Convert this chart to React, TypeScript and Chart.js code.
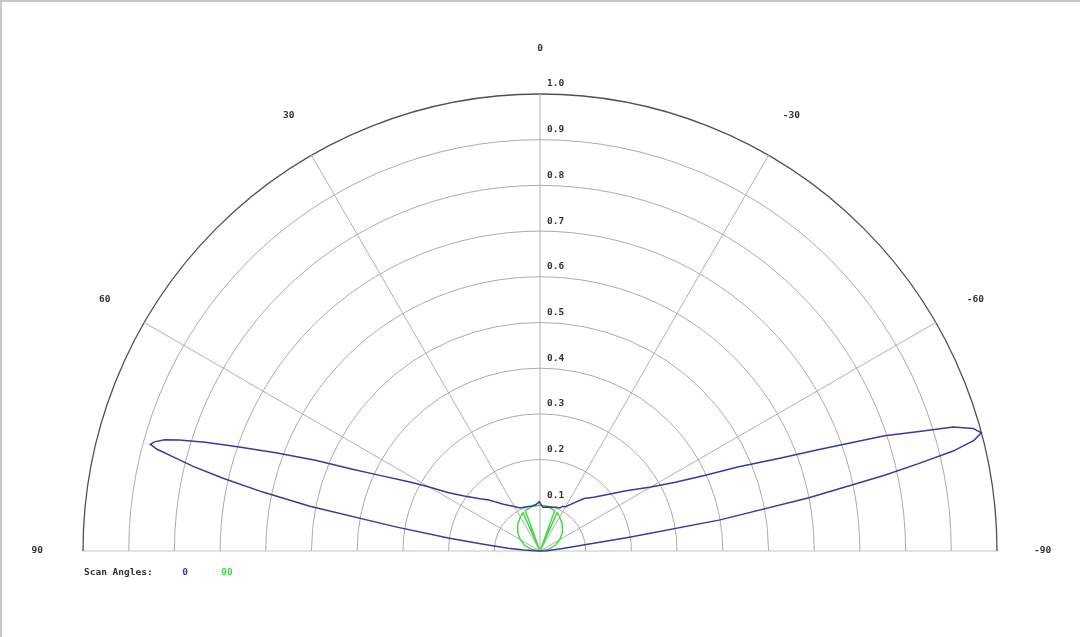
import React, { useEffect, useRef } from 'react';
import { Chart, registerables } from 'chart.js';

Chart.register(...registerables);

// scan angle series (degrees from boresight, positive = left) and normalised gain
const SERIES_LABELS = ['0', '90'];
const SERIES_COLORS = ['#3a3a9c', '#44d844'];

const BLUE_ANGLES = [
  90, 88, 86.5, 85, 83.2, 82, 80.5, 79, 78, 77.1, 76.3, 75.6, 75.1, 74.7, 74.2, 73.5, 72.9, 72, 71,
  69.6, 68, 66.5, 64.8, 62, 60, 57.6, 54, 49, 45, 42, 38, 35, 31, 25, 20, 15, 10, 5, 2, 1, 0, -2, -4,
  -10, -20, -25, -27, -30, -35.5, -40, -45, -50.5, -55, -60, -63, -65.4, -67, -68.9, -70, -71.5,
  -72.5, -73.3, -74.2, -75, -75.7, -76.4, -77, -77.6, -78.8, -80.2, -81.2, -82.1, -84, -87, -90,
];
const BLUE_R = [
  0, 0.012, 0.036, 0.07, 0.128, 0.2, 0.32, 0.513, 0.62, 0.71, 0.78, 0.83, 0.868, 0.884, 0.877, 0.857,
  0.826, 0.77, 0.7, 0.617, 0.53, 0.45, 0.39, 0.32, 0.28, 0.239, 0.205, 0.174, 0.158, 0.144, 0.13,
  0.122, 0.114, 0.104, 0.102, 0.101, 0.1, 0.102, 0.106, 0.108, 0.105, 0.1, 0.096, 0.098, 0.102,
  0.104, 0.11, 0.112, 0.13, 0.15, 0.166, 0.195, 0.23, 0.28, 0.33, 0.398, 0.47, 0.565, 0.65, 0.795,
  0.87, 0.944, 0.985, 1.0, 0.98, 0.93, 0.85, 0.772, 0.6, 0.4, 0.198, 0.099, 0.05, 0.015, 0,
];

const GREEN_ANGLES = [
  90, 80, 70, 60, 50, 40, 30, 24, 22, 20, 10, 0, -10, -20, -22, -24, -30, -40, -50, -60, -70, -80, -90,
];
const GREEN_R = [
  0, 0.018, 0.035, 0.05, 0.064, 0.076, 0.086, 0.092, 0.004, 0.094, 0.099, 0.1, 0.099, 0.094, 0.004,
  0.092, 0.086, 0.076, 0.064, 0.05, 0.035, 0.018, 0,
];

const ANGLE_TICKS = [90, 60, 30, 0, -30, -60, -90];
const RADIAL_TICKS = [0.1, 0.2, 0.3, 0.4, 0.5, 0.6, 0.7, 0.8, 0.9, 1.0];

const WIDTH = 1080;
const HEIGHT = 637;
const CENTER_X = 540;
const CENTER_Y = 551;
const RADIUS_PX = 457;
const FONT = 'bold 9.5px "DejaVu Sans Mono", monospace';

const rad = (d: number) => (d * Math.PI) / 180;

function toXY(angles: number[], radii: number[]) {
  return angles.map((a, i) => ({ x: -radii[i] * Math.sin(rad(a)), y: radii[i] * Math.cos(rad(a)) }));
}

// draws the half-circle polar grid, its labels and the legend line
const polarGrid = {
  id: 'polarGrid',
  beforeDatasetsDraw(chart: any) {
    const { ctx, scales } = chart;
    const sx = scales.x;
    const sy = scales.y;
    const cx = sx.getPixelForValue(0);
    const cy = sy.getPixelForValue(0);
    const R = sx.getPixelForValue(1) - cx;

    ctx.save();
    // baseline
    ctx.strokeStyle = '#c4c4c4';
    ctx.lineWidth = 1;
    ctx.beginPath();
    ctx.moveTo(cx - R, cy);
    ctx.lineTo(cx + R, cy);
    ctx.stroke();

    // rings
    RADIAL_TICKS.forEach((t) => {
      const last = t === RADIAL_TICKS[RADIAL_TICKS.length - 1];
      ctx.strokeStyle = last ? '#505050' : '#aaaaaa';
      ctx.lineWidth = last ? 1.3 : 1;
      ctx.beginPath();
      ctx.arc(cx, cy, R * t, Math.PI, 2 * Math.PI);
      ctx.stroke();
    });

    // spokes
    ctx.strokeStyle = '#b0b0b0';
    ctx.lineWidth = 1;
    ANGLE_TICKS.filter((a) => Math.abs(a) < 90).forEach((a) => {
      ctx.beginPath();
      ctx.moveTo(cx, cy);
      ctx.lineTo(cx - R * Math.sin(rad(a)), cy - R * Math.cos(rad(a)));
      ctx.stroke();
    });

    ctx.font = FONT;
    ctx.fillStyle = '#333';
    ctx.textBaseline = 'middle';

    // radial tick labels
    ctx.textAlign = 'left';
    RADIAL_TICKS.forEach((t) => {
      ctx.fillText(t.toFixed(1), cx + 7, cy - R * t - 10);
    });

    // angle labels
    ctx.textAlign = 'center';
    ANGLE_TICKS.forEach((a) => {
      ctx.fillText(String(a), cx - R * 1.1 * Math.sin(rad(a)), cy - R * 1.1 * Math.cos(rad(a)));
    });

    // legend
    const ly = cy + 22;
    ctx.textAlign = 'left';
    ctx.fillText('Scan Angles:', cx - R + 1, ly);
    ctx.textAlign = 'center';
    chart.data.datasets.forEach((ds: any, i: number) => {
      ctx.fillStyle = ds.borderColor;
      ctx.fillText(ds.label, cx - R + 102 + i * 42, ly);
    });
    ctx.restore();
  },
};

export default function App() {
  const chartRef = useRef<HTMLCanvasElement>(null);
  const chartInstance = useRef<Chart | null>(null);

  useEffect(() => {
    if (!chartRef.current) return;
    if (chartInstance.current) chartInstance.current.destroy();

    const ctx = chartRef.current.getContext('2d');
    if (!ctx) return;

    const series = [
      toXY(BLUE_ANGLES, BLUE_R),
      toXY(GREEN_ANGLES, GREEN_R),
    ];

    chartInstance.current = new Chart(ctx, {
      type: 'scatter',
      data: {
        datasets: series.map((data, i) => ({
          label: SERIES_LABELS[i],
          data,
          showLine: true,
          borderColor: SERIES_COLORS[i],
          backgroundColor: SERIES_COLORS[i],
          borderWidth: 1.5,
          pointRadius: 0,
          tension: 0,
        })),
      },
      options: {
        responsive: true,
        maintainAspectRatio: false,
        animation: false,
        layout: { padding: 0 },
        scales: {
          x: {
            type: 'linear',
            display: false,
            min: -CENTER_X / RADIUS_PX,
            max: (WIDTH - CENTER_X) / RADIUS_PX,
          },
          y: {
            type: 'linear',
            display: false,
            min: -(HEIGHT - CENTER_Y) / RADIUS_PX,
            max: CENTER_Y / RADIUS_PX,
          },
        },
        plugins: {
          legend: { display: false },
          tooltip: { enabled: false },
        },
      },
      plugins: [polarGrid],
    });

    return () => {
      if (chartInstance.current) {
        chartInstance.current.destroy();
        chartInstance.current = null;
      }
    };
  }, []);

  return (
    <div
      style={{
        position: 'fixed',
        left: 0,
        top: 0,
        width: WIDTH,
        height: HEIGHT,
        background: '#fff',
        boxShadow: 'inset 2px 2px 0 #c8c8c8',
      }}
    >
      <canvas ref={chartRef}></canvas>
    </div>
  );
}
